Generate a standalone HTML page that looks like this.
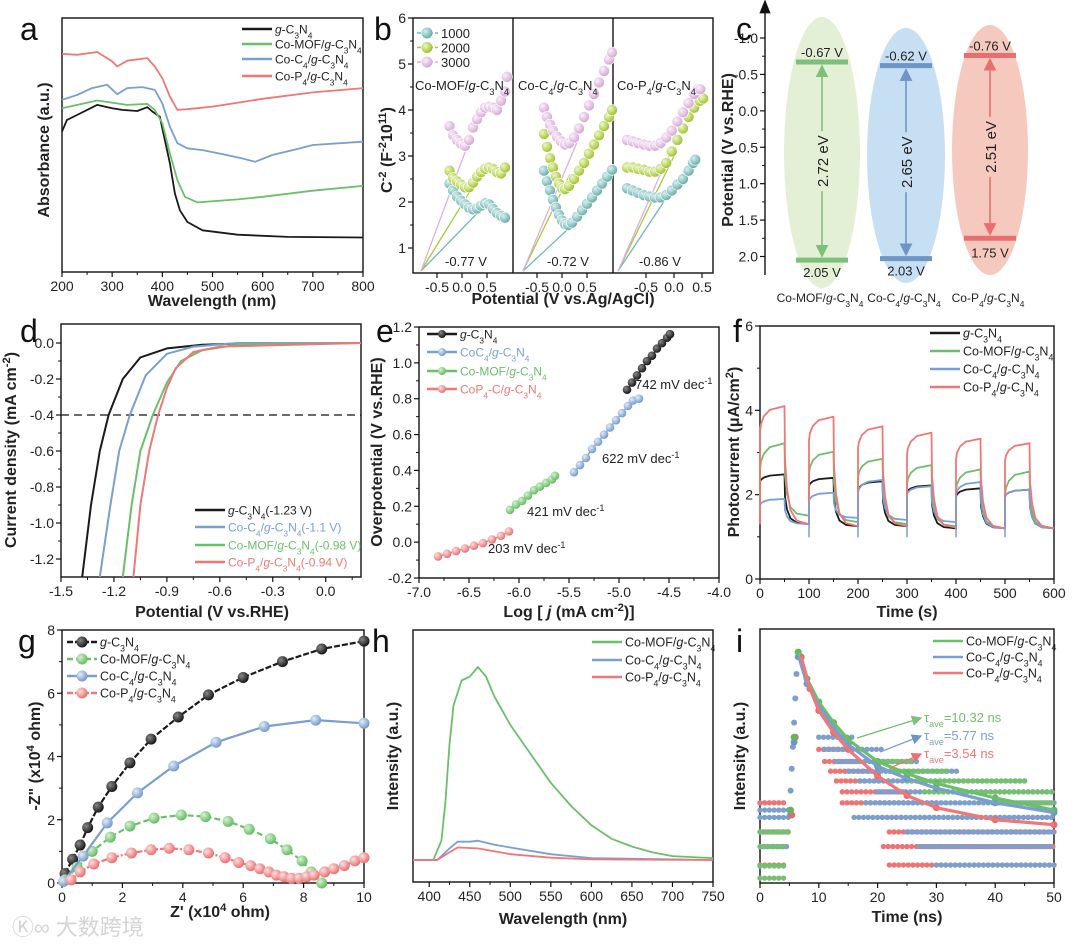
<!DOCTYPE html>
<html><head><meta charset="utf-8">
<style>
html,body{margin:0;padding:0;background:#fff;}
svg{display:block;font-family:"Liberation Sans","Noto Sans CJK SC",sans-serif;}
</style></head>
<body>
<svg id="fig" width="1080" height="944" viewBox="0 0 1080 944" xmlns="http://www.w3.org/2000/svg">
<defs>
<radialGradient id="gTeal" cx="0.35" cy="0.35" r="0.7"><stop offset="0" stop-color="#d8f0ee"/><stop offset="1" stop-color="#5fa9a6"/></radialGradient>
<radialGradient id="gLime" cx="0.35" cy="0.35" r="0.7"><stop offset="0" stop-color="#eef7c8"/><stop offset="1" stop-color="#9bbf22"/></radialGradient>
<radialGradient id="gPink" cx="0.35" cy="0.35" r="0.7"><stop offset="0" stop-color="#fbf0fb"/><stop offset="1" stop-color="#d3a2d2"/></radialGradient>
<radialGradient id="gBlack" cx="0.35" cy="0.35" r="0.7"><stop offset="0" stop-color="#888"/><stop offset="1" stop-color="#111"/></radialGradient>
<radialGradient id="gGreen" cx="0.35" cy="0.35" r="0.7"><stop offset="0" stop-color="#d6f1d3"/><stop offset="1" stop-color="#5fb85c"/></radialGradient>
<radialGradient id="gBlue" cx="0.35" cy="0.35" r="0.7"><stop offset="0" stop-color="#e1ecf8"/><stop offset="1" stop-color="#6f95c8"/></radialGradient>
<radialGradient id="gRed" cx="0.35" cy="0.35" r="0.7"><stop offset="0" stop-color="#fde0e0"/><stop offset="1" stop-color="#e86a6a"/></radialGradient>
<marker id="arrG" markerWidth="8" markerHeight="8" refX="7" refY="4" orient="auto"><path d="M0,0 L8,4 L0,8 z" fill="#7cc07a"/></marker>
<marker id="arrB" markerWidth="8" markerHeight="8" refX="7" refY="4" orient="auto"><path d="M0,0 L8,4 L0,8 z" fill="#6f95c4"/></marker>
<marker id="arrR" markerWidth="8" markerHeight="8" refX="7" refY="4" orient="auto"><path d="M0,0 L8,4 L0,8 z" fill="#ea6e6e"/></marker>
<marker id="arrK" markerWidth="10" markerHeight="10" refX="5" refY="9" orient="0"><path d="M1,10 L5,0 L9,10 z" fill="#111"/></marker>
</defs>
</svg>
<script>
// ---------------- DATA ----------------
const aWl=[200,210,230,250,270,300,320,350,370,380,395,405,415,425,435,450,480,550,650,800];
const aBlack=[0.553,0.599,0.618,0.638,0.658,0.645,0.638,0.634,0.649,0.632,0.612,0.52,0.428,0.309,0.243,0.197,0.164,0.147,0.138,0.136];
const aGreenX=[200,270,330,370,385,400,415,430,445,470,550,600,700,800];
const aGreen=[0.645,0.675,0.658,0.662,0.638,0.586,0.467,0.362,0.296,0.274,0.286,0.296,0.32,0.339];
const aBlueX=[200,230,260,290,310,330,360,385,400,415,430,450,480,520,560,585,620,660,700,800];
const aBlue=[0.678,0.697,0.724,0.737,0.7,0.724,0.728,0.717,0.664,0.572,0.507,0.487,0.48,0.464,0.447,0.434,0.461,0.48,0.5,0.513];
const aRedX=[200,230,270,300,310,330,370,385,400,415,430,450,500,600,700,800];
const aRed=[0.859,0.855,0.866,0.829,0.809,0.832,0.842,0.809,0.763,0.691,0.638,0.641,0.651,0.682,0.707,0.724];
const b1Teal=[[-0.25,2.4],[-0.18,2.25],[-0.1,2.12],[-0.02,2.03],[0.06,1.95],[0.14,1.88],[0.22,1.84],[0.3,1.86],[0.38,1.92],[0.46,1.97],[0.54,1.95],[0.62,1.85],[0.7,1.76],[0.78,1.7],[0.86,1.66]];
const b1Lime=[[-0.25,2.68],[-0.18,2.52],[-0.1,2.45],[-0.02,2.38],[0.06,2.32],[0.14,2.32],[0.22,2.42],[0.3,2.55],[0.38,2.65],[0.46,2.72],[0.54,2.75],[0.62,2.72],[0.7,2.65],[0.78,2.62],[0.86,2.75]];
const b1Pink=[[-0.25,3.65],[-0.18,3.45],[-0.1,3.35],[-0.02,3.27],[0.06,3.22],[0.14,3.35],[0.22,3.62],[0.3,3.8],[0.38,3.95],[0.46,4.05],[0.54,4.07],[0.62,4.05],[0.7,4.0],[0.78,4.2],[0.86,4.4],[0.9,4.72]];
const b2Teal=[[-0.36,2.68],[-0.3,2.45],[-0.24,2.25],[-0.18,2.05],[-0.12,1.88],[-0.06,1.72],[0.0,1.6],[0.06,1.52],[0.12,1.5],[0.2,1.55],[0.3,1.68],[0.4,1.82],[0.5,1.96],[0.6,2.1],[0.7,2.25],[0.8,2.4],[0.9,2.55],[1.0,2.7]];
const b2Lime=[[-0.36,3.48],[-0.3,3.2],[-0.24,2.95],[-0.18,2.75],[-0.12,2.55],[-0.06,2.4],[0.0,2.3],[0.06,2.28],[0.14,2.35],[0.24,2.5],[0.34,2.68],[0.44,2.85],[0.54,3.05],[0.64,3.25],[0.74,3.45],[0.84,3.65],[0.94,3.85],[1.0,4.0]];
const b2Pink=[[-0.36,4.05],[-0.3,3.85],[-0.24,3.68],[-0.18,3.55],[-0.1,3.42],[-0.02,3.32],[0.06,3.25],[0.14,3.28],[0.24,3.4],[0.34,3.6],[0.44,3.85],[0.54,4.1],[0.64,4.35],[0.74,4.6],[0.84,4.85],[0.94,5.1],[1.0,5.25]];
const b3Teal=[[-0.84,2.3],[-0.74,2.25],[-0.64,2.2],[-0.54,2.15],[-0.44,2.12],[-0.34,2.1],[-0.24,2.1],[-0.14,2.15],[-0.04,2.25],[0.06,2.38],[0.16,2.5],[0.26,2.68],[0.34,2.85],[0.38,2.92]];
const b3Lime=[[-0.84,2.75],[-0.74,2.75],[-0.64,2.72],[-0.54,2.7],[-0.44,2.66],[-0.34,2.66],[-0.24,2.72],[-0.14,2.85],[-0.04,3.1],[0.06,3.35],[0.16,3.6],[0.26,3.85],[0.36,4.05],[0.46,4.2],[0.52,4.25]];
const b3Pink=[[-0.84,3.35],[-0.74,3.32],[-0.64,3.28],[-0.54,3.25],[-0.44,3.22],[-0.34,3.22],[-0.24,3.28],[-0.14,3.4],[-0.04,3.55],[0.06,3.75],[0.16,3.95],[0.26,4.15],[0.36,4.35],[0.42,4.45],[0.47,4.45]];
const bIntercepts=[-0.82,-0.78,-1.0];
const bIntLabels=["-0.77 V","-0.72 V","-0.86 V"];
const bTanEnd=[[[0.3,1.75],[0.2,2.3],[0.1,3.2]],[[0.16,1.45],[0.16,2.6],[0.3,3.3]],[[-0.13,2.1],[0.0,3.0],[-0.1,3.0]]];
const bSamples=["Co-MOF/*g*-C_3N_4","Co-C_4/*g*-C_3N_4","Co-P_4/*g*-C_3N_4"];
const cNames=["Co-MOF/*g*-C_3N_4","Co-C_4/*g*-C_3N_4","Co-P_4/*g*-C_3N_4"];
const cCB=[-0.67,-0.62,-0.76];
const cVB=[2.05,2.03,1.75];
const cGap=["2.72 eV","2.65 eV","2.51 eV"];
const dBlack=[[-1.38,-1.3],[-1.33,-0.9],[-1.28,-0.6],[-1.23,-0.4],[-1.15,-0.2],[-1.05,-0.08],[-0.9,-0.03],[-0.7,-0.01],[-0.4,0],[0.2,0]];
const dBlue=[[-1.28,-1.3],[-1.22,-0.9],[-1.17,-0.6],[-1.11,-0.4],[-1.02,-0.18],[-0.9,-0.06],[-0.75,-0.02],[-0.5,0],[0.2,0]];
const dGreen=[[-1.15,-1.3],[-1.1,-0.9],[-1.05,-0.6],[-0.98,-0.4],[-0.9,-0.22],[-0.82,-0.1],[-0.7,-0.04],[-0.5,-0.01],[0.2,0]];
const dRed=[[-1.09,-1.3],[-1.05,-0.9],[-1.0,-0.6],[-0.95,-0.4],[-0.9,-0.25],[-0.85,-0.14],[-0.75,-0.05],[-0.6,-0.02],[0.2,0]];
const dRef=-0.4;
const eBlackX=[-4.92,-4.87,-4.82,-4.77,-4.72,-4.67,-4.62,-4.57,-4.52,-4.49];
const eBlackY=[0.85,0.89,0.93,0.97,1.01,1.04,1.08,1.11,1.14,1.16];
const eBlueX=[-5.45,-5.39,-5.33,-5.27,-5.21,-5.15,-5.09,-5.03,-4.97,-4.91,-4.86,-4.80];
const eBlueY=[0.39,0.43,0.47,0.52,0.56,0.60,0.64,0.68,0.72,0.76,0.79,0.80];
const eGreenX=[-6.09,-6.03,-5.97,-5.91,-5.85,-5.79,-5.73,-5.67,-5.64];
const eGreenY=[0.18,0.21,0.23,0.26,0.29,0.31,0.33,0.35,0.37];
const eRedX=[-6.81,-6.72,-6.63,-6.54,-6.45,-6.36,-6.27,-6.18,-6.10];
const eRedY=[-0.08,-0.065,-0.05,-0.035,-0.02,-0.005,0.015,0.035,0.06];
const eSlopes=["742","622","421","203"];
const fCycles=[0,100,200,300,400,500];
const fRedStart=[3.5,3.3,3.1,2.95,2.85,2.8], fRedPeak=[4.1,3.85,3.62,3.47,3.33,3.22], fRedDark=[1.3,1.25,1.25,1.22,1.2,1.2];
const fGreenStart=[2.6,2.5,2.4,2.25,2.1,2.0], fGreenPeak=[3.22,3.02,2.85,2.7,2.6,2.55], fGreenDark=[1.5,1.35,1.3,1.25,1.2,1.2];
const fBlackStart=[2.3,2.2,2.1,2.05,1.95,1.95], fBlackPeak=[2.48,2.4,2.32,2.22,2.15,2.12], fBlackDark=[1.3,1.25,1.25,1.2,1.2,1.2];
const fBlueStart=[1.75,1.85,2.05,2.0,2.0,1.95], fBluePeak=[1.9,2.05,2.35,2.2,2.3,2.12], fBlueDark=[1.3,1.45,1.4,1.35,1.2,1.2];
const gBlack=[[0.1,0.3],[0.35,0.75],[0.6,1.2],[0.85,1.75],[1.2,2.4],[1.65,3.05],[2.25,3.8],[2.95,4.55],[3.85,5.25],[4.85,5.95],[6.0,6.5],[7.3,7.0],[8.6,7.4],[10,7.65]];
const gBlue=[[0.05,0.05],[0.7,0.85],[1.5,1.9],[2.5,2.85],[3.7,3.7],[5.1,4.45],[6.7,4.95],[8.4,5.15],[10,5.05]];
const gGreen=[[0.1,0.1],[0.5,0.5],[1.0,1.0],[1.6,1.45],[2.25,1.8],[3.05,2.05],[3.95,2.15],[4.75,2.1],[5.5,1.95],[6.2,1.7],[6.9,1.4],[7.45,1.05],[7.95,0.7],[8.25,0.35],[8.6,0.0]];
const gRed=[[0.3,0.1],[0.6,0.35],[1.05,0.6],[1.65,0.8],[2.3,0.95],[2.95,1.05],[3.55,1.1],[4.2,1.05],[4.85,0.95],[5.4,0.8],[5.85,0.65],[6.25,0.55],[6.55,0.45],[6.85,0.35],[7.1,0.25],[7.35,0.2],[7.6,0.15],[7.85,0.15],[8.1,0.2],[8.35,0.25],[8.7,0.35],[9.0,0.45],[9.35,0.55],[9.7,0.7],[10,0.8]];
const hGreen=[[380,0],[405,0],[415,0.1],[420,0.3],[425,0.6],[430,0.8],[440,0.93],[450,0.95],[460,1.0],[470,0.95],[480,0.85],[500,0.7],[520,0.58],[550,0.4],[575,0.28],[600,0.18],[625,0.11],[650,0.07],[675,0.04],[700,0.02],[750,0.01]];
const hBlue=[[380,0],[410,0],[425,0.06],[435,0.095],[450,0.095],[460,0.1],[480,0.08],[500,0.065],[550,0.03],[600,0.01],[750,0]];
const hRed=[[380,0],[410,0],[425,0.04],[435,0.065],[460,0.06],[480,0.045],[500,0.03],[550,0.012],[600,0.003],[750,0]];
const iGreenFit=[[5.2,0.3],[5.8,0.6],[6.5,0.95],[8,0.84],[10,0.745],[12.5,0.66],[15,0.59],[20,0.5],[25,0.45],[30,0.41],[40,0.35],[50,0.3]];
const iBlueFit=[[5.2,0.28],[5.8,0.58],[6.6,0.93],[8,0.82],[10,0.73],[12.5,0.64],[15,0.57],[20,0.48],[25,0.43],[30,0.39],[40,0.33],[50,0.29]];
const iRedFit=[[5.4,0.28],[6,0.6],[7,0.93],[8.5,0.8],[10,0.71],[12.5,0.62],[15,0.55],[20,0.44],[25,0.36],[30,0.31],[40,0.26],[50,0.24]];
const iBlueRows=[[0.6,10,16],[0.55,11,21],[0.5,13,27],[0.46,15,34],[0.42,17,45],[0.375,20,50],[0.33,18,50],[0.27,16,50],[0.21,25,50],[0.15,27,50],[0.074,30,50],[0.3,0,5],[0.27,0,5],[0.21,0,5],[0.15,0.5,4.5]];
const iRedRows=[[0.55,10,14],[0.5,11,17],[0.46,12,19],[0.42,13,22],[0.375,14,25],[0.33,14,30],[0.27,20,50],[0.21,22,50],[0.15,21,50],[0.074,22,50],[0.33,0,4],[0.21,0.5,4.5],[0.074,0,4]];
const iGreenRows=[[0.5,20,26],[0.46,22,32],[0.42,25,45],[0.375,28,50],[0.33,40,50],[0.21,0,5],[0.15,0,4.5],[0.07,0,4],[0.02,0,4]];
const iRise=[[5,0.3],[5.2,0.38],[5.4,0.47],[5.6,0.56],[5.8,0.66],[6,0.76],[6.2,0.86],[6.4,0.93]];
const iTau=["10.32","5.77","3.54"];

// ---------------- HELPERS ----------------
const NS="http://www.w3.org/2000/svg";
const svg=document.getElementById('fig');
function mk(tag,parent){const e=document.createElementNS(NS,tag);(parent||svg).appendChild(e);return e;}
function at(e,o){for(const k in o)e.setAttribute(k,o[k]);return e;}
function lin(d0,d1,p0,p1){return v=>p0+(v-d0)/(d1-d0)*(p1-p0);}
function fmt(s){return s.replace(/\*(.+?)\*/g,'<tspan font-style="italic">$1</tspan>').replace(/_(\w)/g,'<tspan baseline-shift="sub" font-size="70%">$1</tspan>').replace(/\^\{(.+?)\}/g,'<tspan baseline-shift="super" font-size="70%">$1</tspan>');}
function T(p,x,y,s,o){o=o||{};const t=mk('text',p);at(t,{x:x,y:y,'font-size':o.fs||13,'text-anchor':o.a||'start',fill:o.c||'#222','font-weight':o.w||'normal'});if(o.r)t.setAttribute('transform','rotate('+o.r+' '+x+' '+y+')');t.innerHTML=fmt(s);return t;}
function G(name){const g=mk('g');return g;}
function frame(p,x0,y0,x1,y1){const r=at(mk('rect',p),{x:x0,y:y0,width:x1-x0,height:y1-y0,fill:'none',stroke:'#111','stroke-width':1.4});

}
function xTicks(p,vals,sc,y,labels,minor){vals.forEach((v,i)=>{const l=at(mk('line',p),{x1:sc(v),x2:sc(v),y1:y,y2:y+5,stroke:'#111','stroke-width':1.2});


const t=T(p,sc(v),y+19,labels[i],{fs:14,a:'middle'});

});
(minor||[]).forEach(v=>{const l=at(mk('line',p),{x1:sc(v),x2:sc(v),y1:y,y2:y+3,stroke:'#111','stroke-width':1});

});}
function yTicks(p,vals,sc,x,labels,minor){vals.forEach((v,i)=>{const l=at(mk('line',p),{x1:x-5,x2:x,y1:sc(v),y2:sc(v),stroke:'#111','stroke-width':1.2});


if(labels){const t=T(p,x-7,sc(v)+5,labels[i],{fs:14,a:'end'});

}});
(minor||[]).forEach(v=>{const l=at(mk('line',p),{x1:x-3,x2:x,y1:sc(v),y2:sc(v),stroke:'#111','stroke-width':1});

});}
function path(p,pts,sx,sy,col,w,dash){const d=pts.map((q,i)=>(i?'L':'M')+sx(q[0]).toFixed(1)+','+sy(q[1]).toFixed(1)).join('');const e=at(mk('path',p),{d:d,fill:'none',stroke:col,'stroke-width':w||1.8,'stroke-linejoin':'round'});if(dash)e.setAttribute('stroke-dasharray',dash);return e;}
function zip(xs,ys){return xs.map((x,i)=>[x,ys[i]]);}
function title(p,x,y,s,r){const t=T(p,x,y,s,{fs:16,w:'bold',a:'middle',r:r});return t;}
function letter(x,y,s){const t=T(svg,x,y,s,{fs:32,c:'#111'});

}
function range(a,b,s){const r=[];for(let v=a;v<=b+1e-9;v+=s)r.push(+v.toFixed(4));return r;}
const K='#1a1a1a',GR='#6cbf6a',BL='#7a9fcf',RD='#ef7777';
function legendLine(p,x,y,col,label,name,fs,mark,dash){const l=at(mk('line',p),{x1:x,x2:x+30,y1:y,y2:y,stroke:col,'stroke-width':2.5});if(dash)l.setAttribute('stroke-dasharray',dash);


if(mark){const c=at(mk('circle',p),{cx:x+15,cy:y,r:mark[1],fill:mark[0]});

}
const t=T(p,x+33,y+4.5,label,{fs:fs||12,c:col==K?'#222':(p.dataset.colortext?col:'#222')});

}

// ---------------- PANEL A ----------------
{const g=G('panel-a-absorbance');const sx=lin(200,800,62,363),sy=lin(0,1,272,18);
frame(g,62,18,363,272);xTicks(g,range(200,800,100),sx,272,range(200,800,100).map(String),range(250,750,100));
const l1=title(g,212,306,'Wavelength (nm)');
const l2=title(g,49,150,'Absorbance (a.u.)',-90);
let e=path(g,zip(aWl,aBlack),sx,sy,K,1.8);
e=path(g,zip(aGreenX,aGreen),sx,sy,GR,1.8);
e=path(g,zip(aBlueX,aBlue),sx,sy,BL,1.8);
e=path(g,zip(aRedX,aRed),sx,sy,RD,1.8);
legendLine(g,242,29,K,'*g*-C_3N_4','legend-g-c3n4');
legendLine(g,242,44,GR,'Co-MOF/*g*-C_3N_4','legend-co-mof');
legendLine(g,242,59,BL,'Co-C_4/*g*-C_3N_4','legend-co-c4');
legendLine(g,242,76,RD,'Co-P_4/*g*-C_3N_4','legend-co-p4');}
letter(20,40,'a');

// ---------------- PANEL B ----------------
{const g=G('panel-b-mott-schottky');const sy=lin(1,6,248,18);
frame(g,413,18,713,273);
[513,613].forEach(x=>{const l=at(mk('line',g),{x1:x,x2:x,y1:18,y2:273,stroke:'#111','stroke-width':1.4});});
yTicks(g,range(1,6,1),sy,413,range(1,6,1).map(String),range(1.5,5.5,1));
const scs=[lin(0,1,462,512),lin(0,1,562,612),lin(0,1,674,730)];
const sets=[[b1Teal,b1Lime,b1Pink],[b2Teal,b2Lime,b2Pink],[b3Teal,b3Lime,b3Pink]];
const fills=['url(#gTeal)','url(#gLime)','url(#gPink)'],lc=['#6fb8b5','#a8c83a','#dfaee0'],nm=['1000','2000','3000'];
sets.forEach((s,k)=>{const sx=scs[k];
xTicks(g,[-0.5,0,0.5],sx,273,['-0.5','0.0','0.5']);
s.forEach((ser,j)=>{const end=bTanEnd[k][j];const ln=path(g,[[bIntercepts[k],0.5],end],sx,sy,lc[j],1.3);});
s.forEach((ser,j)=>{ser.forEach(q=>{const c=at(mk('circle',g),{cx:sx(q[0]),cy:sy(q[1]),r:5.5,fill:fills[j],stroke:'#fff','stroke-width':0.6});

});});
const t=T(g,[415,518,617][k],90,bSamples[k],{fs:13});
const t2=T(g,[466,568,660][k],266,bIntLabels[k],{fs:13,a:'middle'});});
nm.forEach((n,j)=>{const y=33+j*14.5;const l=at(mk('line',g),{x1:417,x2:438,y1:y,y2:y,stroke:lc[j],'stroke-width':1.5,'stroke-dasharray':'4 2'});
const c=at(mk('circle',g),{cx:427,cy:y,r:5.5,fill:fills[j]});
const t=T(g,441,y+5,n,{fs:13});});
const l1=title(g,563,304,'Potential (V vs.Ag/AgCl)');
const l2=title(g,392,150,'C^{-2} (F^{-2}10^{11})',-90);}
letter(374,40,'b');

// ---------------- PANEL C ----------------
{const g=G('panel-c-band-structure');const sy=lin(-1,2,38,256.5);
const ax=at(mk('line',g),{x1:765,x2:765,y1:275,y2:12,stroke:'#111','stroke-width':1.4,'marker-end':'url(#arrK)'});
yTicks(g,range(-1,2,0.5),sy,765,['-1.0','-0.5','0.0','0.5','1.0','1.5','2.0'],range(-0.75,1.75,0.5));
const cx=[822,906,990],ew=[38,39,38],ey=[[17,288],[28,283],[25,275]];
const ef=['#e4f0d6','#c7dff3','#f6c9bf'],bc=['#7cc07a','#6f95c4','#ea6e6e'],mk2=['url(#arrG)','url(#arrB)','url(#arrR)'];
cNames.forEach((n,k)=>{const e=at(mk('ellipse',g),{cx:cx[k],cy:(ey[k][0]+ey[k][1])/2,rx:ew[k],ry:(ey[k][1]-ey[k][0])/2,fill:ef[k]});
const yc=sy(cCB[k]),yv=sy(cVB[k]);
const b1=at(mk('line',g),{x1:cx[k]-26,x2:cx[k]+26,y1:yc,y2:yc,stroke:bc[k],'stroke-width':5});
const b2=at(mk('line',g),{x1:cx[k]-26,x2:cx[k]+26,y1:yv,y2:yv,stroke:bc[k],'stroke-width':5});
const mid=(yc+yv)/2;
const a1=at(mk('line',g),{x1:cx[k],x2:cx[k],y1:mid-30,y2:yc+4,stroke:bc[k],'stroke-width':1.6,'marker-end':mk2[k]});
const a2=at(mk('line',g),{x1:cx[k],x2:cx[k],y1:mid+30,y2:yv-4,stroke:bc[k],'stroke-width':1.6,'marker-end':mk2[k]});
const tg=T(g,cx[k]+6,mid,cGap[k],{fs:15,a:'middle',r:-90});
const t1=T(g,cx[k],yc-5,cCB[k].toFixed(2)+' V',{fs:13,a:'middle'});
const t2=T(g,cx[k],cVB[k]>1.9?yv+17:yv+19,cVB[k].toFixed(2)+' V',{fs:13,a:'middle'});
const t3=T(g,cx[k]-2,302,n,{fs:12,a:'middle'});});
const l2=title(g,733,150,'Potential (V vs.RHE)',-90);}
letter(736,40,'c');

// ---------------- PANEL D ----------------
{const g=G('panel-d-lsv');const sx=lin(-1.5,0.2,61,361),sy=lin(0,-1.3,343,577);
frame(g,61,324,361,577);
xTicks(g,range(-1.5,0,0.3),sx,577,['-1.5','-1.2','-0.9','-0.6','-0.3','0.0'],range(-1.35,0.15,0.3));
yTicks(g,range(-1.2,0,0.2),sy,61,['-1.2','-1.0','-0.8','-0.6','-0.4','-0.2','0.0'],range(-1.1,-0.1,0.2));
const ref=at(mk('line',g),{x1:61,x2:361,y1:sy(dRef),y2:sy(dRef),stroke:'#111','stroke-width':1.3,'stroke-dasharray':'8 5'});
const C=(d)=>d.map(q=>[q[0],Math.max(q[1],-1.3)]);
let e=path(g,C(dBlack),sx,sy,K,2);
e=path(g,C(dBlue),sx,sy,BL,2);
e=path(g,C(dGreen),sx,sy,GR,2);
e=path(g,C(dRed),sx,sy,RD,2);
g.dataset.colortext='1';
legendLine(g,195,510,K,'*g*-C_3N_4(-1.23 V)','legend-g-c3n4');
legendLine(g,195,527,BL,'Co-C_4/*g*-C_3N_4(-1.1 V)','legend-co-c4');
legendLine(g,195,545,GR,'Co-MOF/*g*-C_3N_4(-0.98 V)','legend-co-mof');
legendLine(g,195,562,RD,'Co-P_4/*g*-C_3N_4(-0.94 V)','legend-co-p4');
const l1=title(g,212,617,'Potential (V vs.RHE)');
const l2=title(g,16,450,'Current density (mA cm^{-2})',-90);}
letter(20,342,'d');

// ---------------- PANEL E ----------------
{const g=G('panel-e-tafel');const sx=lin(-7,-4,419,719),sy=lin(1.2,-0.2,327,578);
frame(g,419,327,719,578);
xTicks(g,range(-7,-4,0.5),sx,578,['-7.0','-6.5','-6.0','-5.5','-5.0','-4.5','-4.0'],range(-6.75,-4.25,0.5));
yTicks(g,range(-0.2,1.2,0.2),sy,419,['-0.2','0.0','0.2','0.4','0.6','0.8','1.0','1.2'],range(-0.1,1.1,0.2));
const sers=[[eBlackX,eBlackY,K,'url(#gBlack)','g-c3n4'],[eBlueX,eBlueY,BL,'url(#gBlue)','co-c4'],[eGreenX,eGreenY,GR,'url(#gGreen)','co-mof'],[eRedX,eRedY,RD,'url(#gRed)','co-p4']];
sers.forEach(s=>{const p=path(g,zip(s[0],s[1]),sx,sy,s[2],1.5);
s[0].forEach((x,i)=>{const c=at(mk('circle',g),{cx:sx(x),cy:sy(s[1][i]),r:4.3,fill:s[3]});

});});
const lp=[[635,389],[602,463],[527,516],[488,553]];
eSlopes.forEach((s,i)=>{const t=T(g,lp[i][0],lp[i][1],s+' mV dec^{-1}',{fs:13});});
g.dataset.colortext='1';
legendLine(g,427,334,K,'*g*-C_3N_4','legend-g-c3n4',12,['url(#gBlack)',4]);
legendLine(g,427,352,BL,'CoC_4/*g*-C_3N_4','legend-co-c4',12,['url(#gBlue)',4]);
legendLine(g,427,371,GR,'Co-MOF/*g*-C_3N_4','legend-co-mof',12,['url(#gGreen)',4]);
legendLine(g,427,389,RD,'CoP_4-C/*g*-C_3N_4','legend-co-p4',12,['url(#gRed)',4]);
const l1=title(g,569,617,'Log [ <tspan font-style="italic">j</tspan> (mA cm^{-2})]');
const l2=title(g,382,452,'Overpotential (V vs.RHE)',-90);}
letter(376,342,'e');

// ---------------- PANEL F ----------------
{const g=G('panel-f-photocurrent');const sx=lin(0,600,760,1054),sy=lin(0,6,579,326);
frame(g,760,326,1054,579);
xTicks(g,range(0,600,100),sx,579,range(0,600,100).map(String),range(50,550,100));
yTicks(g,[0,2,4,6],sy,760,['0','2','4','6'],[1,3,5]);
function build(st,pk,dk){const pts=[[0,dk[0]]];fCycles.forEach((t0,i)=>{const s=st[i],p=pk[i],d=dk[i];
pts.push([t0,s],[t0+2,s+(p-s)*0.3],[t0+8,s+(p-s)*0.6],[t0+20,s+(p-s)*0.85],[t0+50,p],[t0+51,d+(p-d)*0.55],[t0+55,d+(p-d)*0.3],[t0+62,d+(p-d)*0.12],[t0+75,d+(p-d)*0.03],[t0+100,d]);});return pts;}
const fs=[[fBlackStart,fBlackPeak,fBlackDark,K,'g-c3n4'],[fGreenStart,fGreenPeak,fGreenDark,GR,'co-mof'],[fBlueStart,fBluePeak,fBlueDark,BL,'co-c4'],[fRedStart,fRedPeak,fRedDark,RD,'co-p4']];
fs.forEach(s=>{const pts=build(s[0],s[1],s[2]).filter(q=>q[0]<=600);const p=path(g,pts,sx,sy,s[3],1.8);});
fCycles.forEach((t0,i)=>{if(t0>0){const sp=path(g,[[t0,fBlueDark[i-1]],[t0,1.0],[t0,fBlueStart[i]]],sx,sy,BL,1.5);}});
legendLine(g,930,333,K,'*g*-C_3N_4','legend-g-c3n4',12.5);
legendLine(g,930,351,GR,'Co-MOF/*g*-C_3N_4','legend-co-mof',12.5);
legendLine(g,930,369,BL,'Co-C_4/*g*-C_3N_4','legend-co-c4',12.5);
legendLine(g,930,387,RD,'Co-P_4/*g*-C_3N_4','legend-co-p4',12.5);
const l1=title(g,907,617,'Time (s)');
const l2=title(g,739,452,'Photocurrent (μA/cm^{2})',-90);}
letter(733,342,'f');

// ---------------- PANEL G ----------------
{const g=G('panel-g-nyquist');const sx=lin(0,10,62,364),sy=lin(0,8,883,630);
frame(g,62,630,364,883);
xTicks(g,range(0,10,2),sx,883,['0','2','4','6','8','10'],range(1,9,2));
yTicks(g,range(0,8,2),sy,62,['0','2','4','6','8'],range(1,7,2));
const sers=[[gBlack,K,'url(#gBlack)','g-c3n4','6 2'],[gGreen,GR,'url(#gGreen)','co-mof','6 3'],[gBlue,BL,'url(#gBlue)','co-c4',null],[gRed,RD,'url(#gRed)','co-p4','6 2 2 2']];
sers.forEach(s=>{const p=path(g,s[0],sx,sy,s[1],2.2,s[4]);
s[0].forEach(q=>{const c=at(mk('circle',g),{cx:sx(q[0]),cy:sy(q[1]),r:5.5,fill:s[2]});

});});
legendLine(g,67,642,K,'*g*-C_3N_4','legend-g-c3n4',12.5,['url(#gBlack)',5.5],'6 2');
legendLine(g,67,659,GR,'Co-MOF/*g*-C_3N_4','legend-co-mof',12.5,['url(#gGreen)',5.5],'6 3');
legendLine(g,67,676,BL,'Co-C_4/*g*-C_3N_4','legend-co-c4',12.5,['url(#gBlue)',5.5]);
legendLine(g,67,693,RD,'Co-P_4/*g*-C_3N_4','legend-co-p4',12.5,['url(#gRed)',5.5],'6 2 2 2');
const l1=title(g,220,917,"Z' (x10^{4} ohm)");
const l2=title(g,40,756,'-Z" (x10^{4} ohm)',-90);}
letter(18,652,'g');

// ---------------- PANEL H ----------------
{const g=G('panel-h-pl');const sx=lin(380,750,413,713),sy=lin(0,1,860,667);
frame(g,413,630,713,882);
xTicks(g,range(400,750,50),sx,882,range(400,750,50).map(String),range(425,725,50));
let e=path(g,hGreen,sx,sy,GR,1.8);
e=path(g,hBlue,sx,sy,BL,1.8);
e=path(g,hRed,sx,sy,RD,1.8);
legendLine(g,592,642,GR,'Co-MOF/*g*-C_3N_4','legend-co-mof',12.5);
legendLine(g,592,660,BL,'Co-C_4/*g*-C_3N_4','legend-co-c4',12.5);
legendLine(g,592,677,RD,'Co-P_4/*g*-C_3N_4','legend-co-p4',12.5);
const l1=title(g,563,924,'Wavelength (nm)');
const l2=title(g,398,756,'Intensity (a.u.)',-90);}
letter(372,652,'h');

// ---------------- PANEL I ----------------
{const g=G('panel-i-trpl');const sx=lin(0,50,760,1054),sy=lin(0,1,883,640);
frame(g,760,629,1054,883);
xTicks(g,range(0,50,10),sx,883,range(0,50,10).map(String),range(5,45,10));
const rowsets=[[iRedRows,'#ec7474','co-p4'],[iBlueRows,'#7d9fcc','co-c4'],[iGreenRows,'#74c070','co-mof']];
rowsets.forEach(rs=>{rs[0].forEach(r=>{for(let t=r[1];t<=r[2]+1e-6;t+=0.8){const c=at(mk('circle',g),{cx:sx(t),cy:sy(r[0]),r:2.7,fill:rs[1]});

}});});
iRise.forEach(q=>{const c=at(mk('circle',g),{cx:sx(q[0]),cy:sy(q[1]),r:3,fill:'#7d9fcc'});

});
const fits=[[iBlueFit,'#6f95c8','co-c4'],[iRedFit,'#e86a6a','co-p4'],[iGreenFit,'#5fb85c','co-mof']];
fits.forEach(f=>{f[0].forEach(q=>{const c=at(mk('circle',g),{cx:sx(q[0]),cy:sy(q[1]),r:3.5,fill:f[1]});

});});
[[iGreenFit,GR,'co-mof'],[iBlueFit,BL,'co-c4'],[iRedFit,RD,'co-p4']].forEach(f=>{const p=path(g,f[0].slice(2),sx,sy,f[1],3.2);});
const arr=[[857,738,921,718,'url(#arrG)',GR],[880,752,921,736,'url(#arrB)',BL],[890,768,921,754,'url(#arrR)',RD]];
arr.forEach((a,i)=>{const l=at(mk('line',g),{x1:a[0],y1:a[1],x2:a[2],y2:a[3],stroke:a[5],'stroke-width':1.3,'marker-end':a[4]});
const t=T(g,924,[722,740,758][i],'τ<tspan baseline-shift="sub" font-size="70%">ave</tspan>='+iTau[i]+' ns',{fs:13,c:a[5]});});
legendLine(g,933,641,GR,'Co-MOF/*g*-C_3N_4','legend-co-mof',12.5);
legendLine(g,933,657,BL,'Co-C_4/*g*-C_3N_4','legend-co-c4',12.5);
legendLine(g,933,673,RD,'Co-P_4/*g*-C_3N_4','legend-co-p4',12.5);
const l1=title(g,907,922,'Time (ns)');
const l2=title(g,745,756,'Intensity (a.u.)',-90);}
letter(736,652,'i');

{const t=T(svg,12,935,'Ⓚ∞ 大数跨境',{fs:22,c:'#d4d4d4'});

}
</script>
</body></html>
